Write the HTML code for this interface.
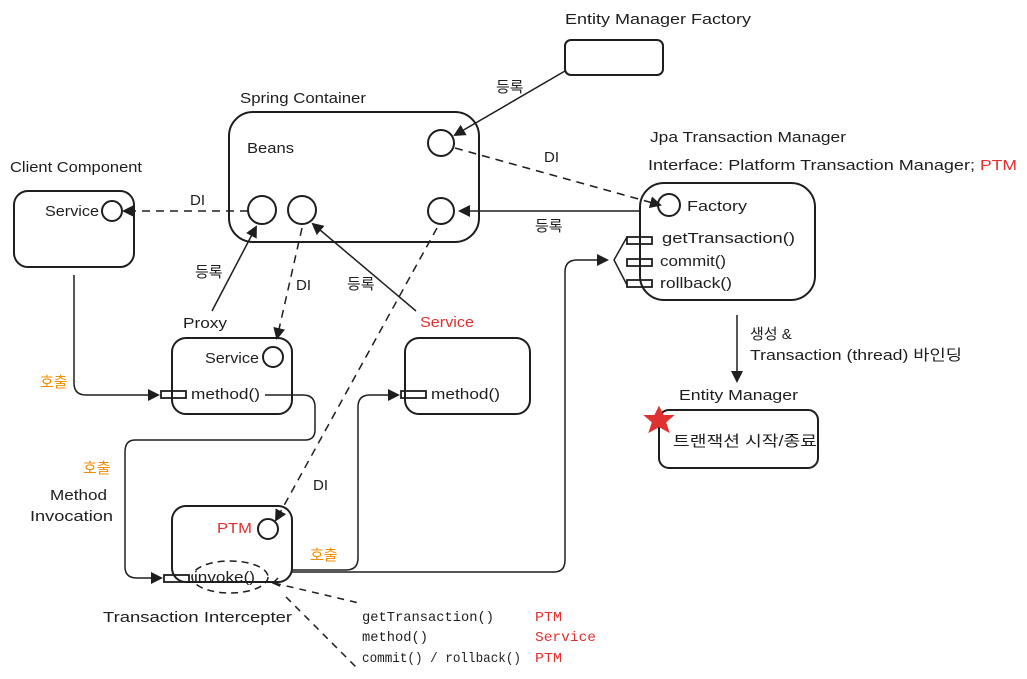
<!DOCTYPE html>
<html><head><meta charset="utf-8"><style>
html,body{margin:0;padding:0;background:#fff;}
svg{display:block;}
text{font-family:"Liberation Sans","Noto Sans CJK KR",sans-serif;font-size:15px;fill:#1e1e1e;}
.m{font-family:"Liberation Mono","Noto Sans CJK KR",monospace;font-size:14px;}
.r{fill:#e03131;}
.o{fill:#f08c00;}
</style></head><body>
<svg width="1027" height="679" viewBox="0 0 1027 679" xmlns="http://www.w3.org/2000/svg">
<defs>
<marker id="a" markerWidth="12" markerHeight="12" refX="10" refY="6" orient="auto" markerUnits="userSpaceOnUse">
<path d="M0,0 L12,6 L0,12 z" fill="#1e1e1e"/></marker>
</defs>
<g fill="none" stroke="#1e1e1e" stroke-width="2">
<rect x="565" y="40" width="98" height="35" rx="6"/>
<rect x="229" y="112" width="250" height="130" rx="24"/>
<rect x="14" y="191" width="120" height="76" rx="14"/>
<rect x="172" y="338" width="120" height="76" rx="14"/>
<rect x="405" y="338" width="125" height="76" rx="14"/>
<rect x="172" y="506" width="120" height="76" rx="14"/>
<rect x="640" y="183" width="175" height="117" rx="24"/>
<rect x="659" y="410" width="159" height="58" rx="10"/>
<circle cx="441" cy="143" r="13"/>
<circle cx="262" cy="210" r="14"/>
<circle cx="302" cy="210" r="14"/>
<circle cx="441" cy="211" r="13"/>
<circle cx="112" cy="211" r="10"/>
<circle cx="273" cy="357" r="10"/>
<circle cx="669" cy="205" r="11"/>
<circle cx="268" cy="529" r="10"/>
<g stroke-width="1.8">
<rect x="161" y="391" width="25" height="7"/>
<rect x="401" y="391" width="25" height="7"/>
<rect x="164" y="575" width="25" height="7"/>
<rect x="627" y="237" width="25" height="7"/>
<rect x="627" y="259" width="25" height="7"/>
<rect x="627" y="280" width="25" height="7"/>
</g>
</g>
<g fill="none" stroke="#1e1e1e" stroke-width="1.5">
<line x1="565" y1="71" x2="455" y2="135" marker-end="url(#a)"/>
<line x1="455" y1="148" x2="660" y2="205" stroke-dasharray="8 6" marker-end="url(#a)"/>
<line x1="640" y1="211" x2="460" y2="211" marker-end="url(#a)"/>
<line x1="248" y1="211" x2="124" y2="211" stroke-dasharray="8 6" marker-end="url(#a)"/>
<line x1="212" y1="311" x2="256" y2="227" marker-end="url(#a)"/>
<line x1="302" y1="228" x2="277" y2="338" stroke-dasharray="8 6" marker-end="url(#a)"/>
<line x1="416" y1="311" x2="313" y2="224" marker-end="url(#a)"/>
<line x1="437" y1="228" x2="276" y2="520" stroke-dasharray="8 6" marker-end="url(#a)"/>
<path d="M74,275 V383 Q74,395 86,395 H158" marker-end="url(#a)"/>
<path d="M265,395 H303 Q315,395 315,407 V430 Q315,440 305,440 H135 Q125,440 125,452 V567 Q125,578 137,578 H161" marker-end="url(#a)"/>
<path d="M292,570 H346 Q358,570 358,558 V407 Q358,395 370,395 H398" marker-end="url(#a)"/>
<path d="M292,572 H554 Q565,572 565,560 V272 Q565,260 577,260 H607" marker-end="url(#a)"/>
<path d="M627,237 L614,260 L627,285"/>
<line x1="737" y1="315" x2="737" y2="381" marker-end="url(#a)"/>
<ellipse cx="230" cy="577" rx="38" ry="16" stroke-dasharray="7 5"/>
<path d="M278,578 L273,583 L280,586"/>
<line x1="274" y1="583" x2="359" y2="603" stroke-dasharray="7 6"/>
<line x1="286" y1="597" x2="357" y2="668" stroke-dasharray="7 6"/>
</g>
<path d="M659,408 L663,416 L672,416 L665,422 L668,431 L659,426 L650,431 L653,422 L646,416 L655,416 z" fill="#e03131" stroke="#e03131" stroke-width="2"/>
<text x="565" y="24" textLength="186" lengthAdjust="spacingAndGlyphs">Entity Manager Factory</text>
<text x="496" y="92">등록</text>
<text x="240" y="103" textLength="126" lengthAdjust="spacingAndGlyphs">Spring Container</text>
<text x="247" y="153" textLength="47" lengthAdjust="spacingAndGlyphs">Beans</text>
<text x="10" y="172" textLength="132" lengthAdjust="spacingAndGlyphs">Client Component</text>
<text x="45" y="216" textLength="54" lengthAdjust="spacingAndGlyphs">Service</text>
<text x="190" y="205">DI</text>
<text x="544" y="162">DI</text>
<text x="535" y="231">등록</text>
<text x="650" y="142" textLength="196" lengthAdjust="spacingAndGlyphs">Jpa Transaction Manager</text>
<text x="648" y="170" textLength="327" lengthAdjust="spacingAndGlyphs">Interface: Platform Transaction Manager;</text>
<text x="980" y="170" class="r" textLength="37" lengthAdjust="spacingAndGlyphs">PTM</text>
<text x="687" y="211" textLength="60" lengthAdjust="spacingAndGlyphs">Factory</text>
<text x="662" y="243" textLength="133" lengthAdjust="spacingAndGlyphs">getTransaction()</text>
<text x="660" y="266" textLength="66" lengthAdjust="spacingAndGlyphs">commit()</text>
<text x="660" y="288" textLength="72" lengthAdjust="spacingAndGlyphs">rollback()</text>
<text x="195" y="277">등록</text>
<text x="296" y="290">DI</text>
<text x="347" y="289">등록</text>
<text x="183" y="328" textLength="44" lengthAdjust="spacingAndGlyphs">Proxy</text>
<text x="420" y="327" class="r" textLength="54" lengthAdjust="spacingAndGlyphs">Service</text>
<text x="205" y="363" textLength="54" lengthAdjust="spacingAndGlyphs">Service</text>
<text x="191" y="399" textLength="69" lengthAdjust="spacingAndGlyphs">method()</text>
<text x="431" y="399" textLength="69" lengthAdjust="spacingAndGlyphs">method()</text>
<text x="40" y="387" class="o">호출</text>
<text x="83" y="473" class="o">호출</text>
<text x="50" y="500" textLength="57" lengthAdjust="spacingAndGlyphs">Method</text>
<text x="30" y="521" textLength="83" lengthAdjust="spacingAndGlyphs">Invocation</text>
<text x="313" y="490">DI</text>
<text x="217" y="533" class="r" textLength="35" lengthAdjust="spacingAndGlyphs">PTM</text>
<text x="310" y="560" class="o">호출</text>
<text x="194" y="582" textLength="61" lengthAdjust="spacingAndGlyphs">invoke()</text>
<text x="103" y="622" textLength="189" lengthAdjust="spacingAndGlyphs">Transaction Intercepter</text>
<text x="750" y="339">생성 &amp;</text>
<text x="750" y="360" textLength="212" lengthAdjust="spacingAndGlyphs">Transaction (thread) 바인딩</text>
<text x="679" y="400" textLength="119" lengthAdjust="spacingAndGlyphs">Entity Manager</text>
<text x="673" y="446" textLength="144" lengthAdjust="spacingAndGlyphs">트랜잭션 시작/종료</text>
<text class="m" x="362" y="621" textLength="132" lengthAdjust="spacingAndGlyphs">getTransaction()</text>
<text class="m" x="362" y="641" textLength="66" lengthAdjust="spacingAndGlyphs">method()</text>
<text class="m" x="362" y="662" textLength="159" lengthAdjust="spacingAndGlyphs">commit() / rollback()</text>
<text class="m r" x="535" y="621" textLength="27" lengthAdjust="spacingAndGlyphs">PTM</text>
<text class="m r" x="535" y="641" textLength="61" lengthAdjust="spacingAndGlyphs">Service</text>
<text class="m r" x="535" y="662" textLength="27" lengthAdjust="spacingAndGlyphs">PTM</text>
</svg>
</body></html>
